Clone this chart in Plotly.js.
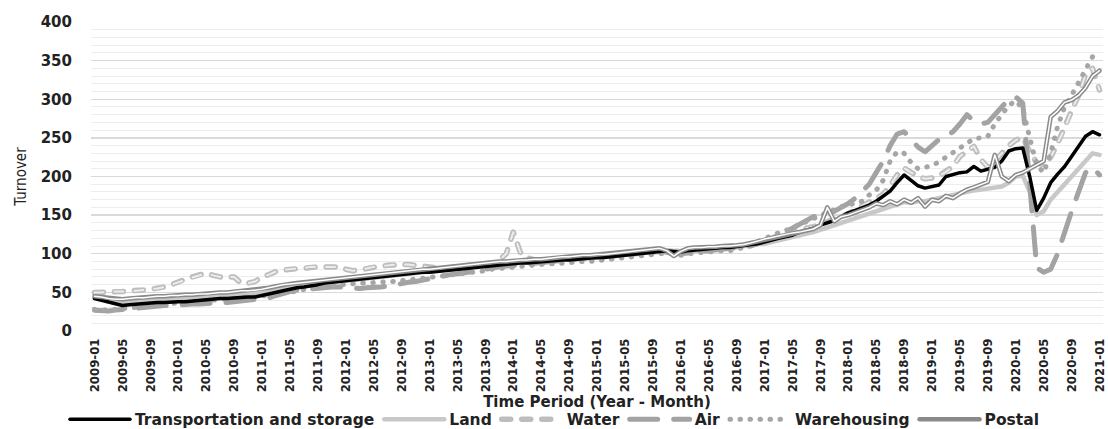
<!DOCTYPE html>
<html><head><meta charset="utf-8">
<script src="https://cdn.plot.ly/plotly-3.0.1.min.js"></script>
<style>html,body{margin:0;padding:0;background:#fff}#chart{width:1108px;height:429px}</style>
</head><body><div id="chart"></div>
<script>
// Category labels: monthly 2009-01 .. 2021-01
const months = [];
for (let y = 2009; y <= 2021; y++) {
  for (let m = 1; m <= 12; m++) {
    if (y === 2021 && m > 1) break;
    months.push(y + '-' + String(m).padStart(2, '0'));
  }
}

const transportation = [
  42, 40, 38, 35, 33, 34, 35, 35, 36, 37, 37, 38,
  38, 38, 39, 40, 40, 41, 42, 42, 43, 43, 44, 44,
  46, 48, 50, 53, 55, 56, 57, 58, 60, 62, 63, 64,
  65, 66, 67, 68, 70, 71, 72, 72, 73, 74, 75, 76,
  76, 77, 77, 78, 79, 80, 81, 82, 83, 84, 85, 86,
  87, 88, 88, 89, 90, 90, 91, 92, 92, 93, 94, 94,
  95, 95, 96, 97, 98, 99, 100, 101, 102, 103, 104, 103,
  102, 104, 105, 106, 107, 107, 108, 108, 109, 110, 111, 113,
  115, 118, 120, 122, 124, 128, 130, 133, 137, 140, 143, 148,
  153, 156, 159, 163, 168, 174, 181, 192, 202, 195, 188, 185,
  187, 189, 200, 203, 205, 206, 213, 207, 210, 212, 220, 233,
  236, 237, 200, 156, 172, 192, 203, 213, 226, 240, 252, 258,
  254
];

const land = [
  43, 42, 40, 38, 37, 38, 39, 39, 40, 41, 41, 42,
  42, 43, 43, 44, 44, 45, 46, 46, 47, 47, 48, 48,
  49, 51, 53, 55, 57, 58, 59, 60, 61, 63, 64, 65,
  66, 67, 68, 69, 70, 71, 72, 73, 74, 75, 76, 76,
  77, 78, 79, 80, 81, 82, 83, 84, 85, 86, 87, 87,
  88, 89, 89, 90, 90, 91, 92, 93, 93, 94, 95, 95,
  96, 96, 97, 98, 99, 100, 101, 102, 103, 104, 103, 101,
  102, 103, 104, 104, 105, 106, 106, 107, 108, 109, 111, 113,
  113, 115, 117, 119, 121, 123, 125, 128, 131, 134, 137, 141,
  144, 147, 150, 153, 156, 159, 162, 165, 167, 166, 168, 168,
  170, 172, 175, 177, 179, 181, 182, 183, 184, 186, 187, 192,
  200, 201, 180, 150, 155, 170, 180, 190, 200, 210, 221, 230,
  228
];

const water = [
  50, 50, 51, 51, 51, 52, 52, 53, 54, 55, 57, 60,
  64, 67, 70, 73, 75, 72, 70, 70, 70, 62, 62, 64,
  70, 73, 77, 79, 80, 81, 82, 83, 83, 83, 83, 83,
  80, 78, 79, 81, 83, 84, 85, 86, 86, 86, 85, 84,
  82, 81, 81, 82, 83, 84, 85, 86, 87, 88, 92, 100,
  128, 102, 95, 92, 91, 91, 92, 93, 93, 94, 95, 96,
  96, 97, 97, 98, 99, 100, 101, 102, 103, 104, 104, 103,
  103, 104, 105, 105, 106, 106, 107, 108, 109, 110, 111, 113,
  116, 119, 122, 125, 128, 131, 133, 135, 138, 141, 144, 148,
  152, 157, 162, 166, 171, 177, 188, 202, 211, 205, 200, 197,
  198, 201, 206, 213, 226, 233, 239, 222, 212, 220, 230, 240,
  247, 251, 232, 218, 215, 225, 243, 262, 285, 305, 332, 340,
  312
];

const air = [
  27, 26, 26, 27, 28, 29, 30, 31, 31, 32, 33, 33,
  34, 34, 35, 35, 36, 36, 37, 37, 38, 38, 39, 40,
  41, 43, 46, 49, 51, 53, 54, 55, 56, 56, 57, 57,
  56, 55, 55, 56, 56, 57, 58, 60, 62, 63, 64, 66,
  68, 70, 72, 73, 74, 75, 76, 78, 80, 82, 83, 84,
  85, 86, 87, 88, 89, 89, 90, 91, 92, 93, 94, 95,
  95, 96, 97, 98, 99, 100, 101, 102, 103, 104, 102, 100,
  100, 101, 102, 102, 103, 104, 105, 106, 107, 108, 110, 113,
  116, 120, 124, 128, 133, 138, 143, 148, 150, 152, 155, 160,
  165, 172, 180, 190, 205, 220, 240, 255, 258, 248, 238, 232,
  240, 248, 252, 258, 268, 280, 272, 268, 270, 280, 292, 300,
  303, 295, 190, 82, 76, 80, 100, 130, 155, 180, 205, 212,
  202
];

const warehousing = [
  28, 27, 27, 28, 29, 30, 31, 32, 33, 34, 35, 35,
  36, 37, 38, 39, 40, 40, 41, 41, 42, 43, 44, 44,
  45, 46, 47, 48, 50, 52, 54, 55, 57, 58, 59, 60,
  61, 61, 62, 62, 63, 63, 64, 64, 65, 66, 67, 68,
  69, 70, 71, 72, 74, 75, 76, 77, 78, 80, 81, 82,
  83, 84, 85, 85, 86, 87, 87, 88, 88, 89, 90, 90,
  91, 92, 93, 94, 95, 96, 97, 98, 99, 100, 101, 100,
  98, 100, 101, 101, 102, 103, 104, 104, 106, 108, 112, 116,
  120, 124, 127, 130, 134, 138, 142, 146, 150, 154, 158, 161,
  163, 165, 168, 176, 182, 195, 220, 232, 230, 218, 210, 212,
  214, 219, 225, 232, 238, 244, 249, 250, 252, 268, 280, 292,
  298, 288, 250, 215, 205, 230, 265, 290, 305, 322, 340, 355,
  358
];

const postal = [
  45, 44, 42, 41, 41, 42, 43, 43, 44, 45, 45, 46,
  46, 47, 47, 48, 48, 49, 50, 50, 51, 52, 52, 53,
  54, 56, 58, 60, 61, 62, 63, 64, 65, 66, 67, 68,
  69, 70, 71, 72, 73, 74, 75, 76, 77, 78, 79, 80,
  80, 81, 82, 83, 84, 85, 86, 87, 88, 89, 90, 90,
  91, 92, 92, 93, 93, 94, 95, 96, 96, 97, 98, 98,
  99, 99, 100, 101, 102, 103, 104, 105, 106, 107, 104, 97,
  103, 107, 108, 108, 109, 109, 110, 110, 111, 112, 114, 117,
  119, 121, 123, 125, 127, 128, 130, 132, 137, 160, 142, 148,
  150, 153, 157, 160, 165, 163, 168, 164, 170, 166, 172, 161,
  170, 168, 175, 172, 178, 183, 186, 190, 193, 228, 200, 194,
  202, 205, 210, 216, 220, 277, 285, 296, 299, 305, 315, 330,
  337
];

const seriesNames = ['Transportation and storage', 'Land', 'Water', 'Air', 'Warehousing', 'Postal'];

const boldFont = 'DejaVu Sans, Verdana, sans-serif';
const narrowFont = 'DejaVu Sans Condensed, Liberation Sans Narrow, sans-serif';

const traces = [
  {name: seriesNames[1], x: months, y: land, mode: 'lines', legendrank: 2,
   line: {color: '#c8c8c8', width: 4.5}},
  {name: seriesNames[2], x: months, y: water, mode: 'lines', legendrank: 3,
   line: {color: '#bdbdbd', width: 5.5, dash: '9px,11px'}},
  {name: seriesNames[2] + ' inner', x: months, y: water, mode: 'lines', showlegend: false,
   line: {color: '#ececec', width: 2, dash: '9px,11px'}},
  {name: seriesNames[3], x: months, y: air, mode: 'lines', legendrank: 4,
   line: {color: '#a3a3a3', width: 5, dash: '28px,16px'}},
  {name: seriesNames[4], x: months, y: warehousing, mode: 'lines', legendrank: 5,
   line: {color: '#a6a6a6', width: 5, dash: '0.5px,9.5px'}},
  {name: seriesNames[0], x: months, y: transportation, mode: 'lines', legendrank: 1,
   line: {color: '#000000', width: 3.5}},
  {name: seriesNames[5], x: months, y: postal, mode: 'lines', legendrank: 6,
   line: {color: '#8a8a8a', width: 4.5}},
  {name: seriesNames[5] + ' inner', x: months, y: postal, mode: 'lines', showlegend: false,
   line: {color: '#ffffff', width: 1.5}}
];

const layout = {
  width: 1108, height: 429,
  margin: {l: 91, r: 5, t: 22, b: 98, autoexpand: false},
  paper_bgcolor: '#ffffff', plot_bgcolor: '#ffffff',
  showlegend: true,
  hovermode: false,
  xaxis: {
    type: 'category', range: [-0.5, 144.5], tickmode: 'linear', tick0: 0, dtick: 4,
    tickangle: -90, showgrid: false, zeroline: false, showline: false, ticks: '',
    automargin: false, ticklabelstandoff: 4,
    tickfont: {family: narrowFont, size: 13, color: '#222222', weight: 'bold'},
    title: {text: 'Time Period (Year - Month)', standoff: 5,
            font: {family: boldFont, size: 15, color: '#222222', weight: 'bold'}}
  },
  yaxis: {
    range: [0, 400], tickmode: 'linear', tick0: 0, dtick: 50,
    showgrid: true, gridcolor: '#d9d9d9', gridwidth: 1.3,
    zeroline: false, showline: false, ticks: '', automargin: false,
    minor: {dtick: 10, showgrid: true, gridcolor: '#ededed', gridwidth: 1},
    ticklabelstandoff: 18,
    tickfont: {family: boldFont, size: 15, color: '#222222', weight: 'bold'},
    title: {text: 'Turnover', standoff: 10,
            font: {family: narrowFont, size: 15, color: '#222222'}}
  },
  legend: {
    orientation: 'h', x: 0.458, xanchor: 'center', y: -0.232, yanchor: 'top',
    itemwidth: 60, traceorder: 'normal',
    font: {family: boldFont, size: 15.5, color: '#222222', weight: 'bold'},
    bgcolor: 'rgba(0,0,0,0)'
  }
};

Plotly.newPlot('chart', traces, layout, {staticPlot: true, displayModeBar: false}).then(() => {
  document.querySelectorAll('.scatterlayer path.js-line, .legendlines path').forEach(p => {
    p.style.strokeLinecap = 'round';
    p.style.strokeLinejoin = 'round';
  });
});
</script>
</body></html>
